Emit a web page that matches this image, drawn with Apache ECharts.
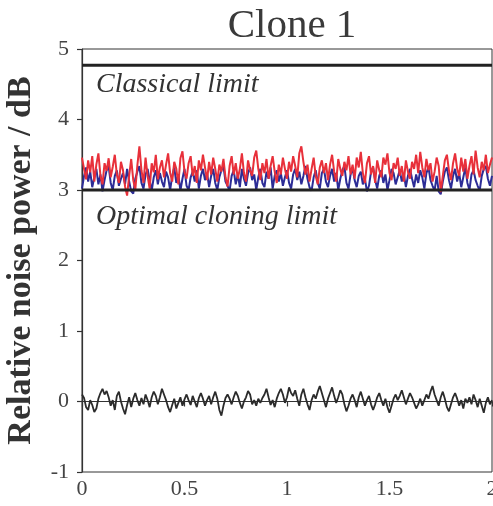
<!DOCTYPE html>
<html>
<head>
<meta charset="utf-8">
<script src="https://cdn.jsdelivr.net/npm/echarts@6/dist/echarts.min.js"></script>
<style>
  html, body { margin: 0; padding: 0; background: #fff; }
  #main { width: 493px; height: 506px; }
</style>
</head>
<body>
<div id="main"></div>
<script>
// time step of the traces (x axis 0..2)
const step = 0.01;
const classicalLimit = 4.77;
const cloningLimit = 3.0;

const redTrace = [
  3.46,3.30,3.15,3.42,3.25,3.48,3.12,3.36,3.52,3.20,3.08,3.38,3.27,3.45,3.18,3.33,3.50,3.22,3.10,3.40,
  3.28,3.05,2.92,3.20,3.44,3.14,3.00,3.35,3.62,3.28,3.10,3.46,3.20,3.02,3.38,3.25,3.50,3.15,3.32,3.42,
  3.18,3.36,3.52,3.24,3.12,3.40,3.30,3.08,3.45,3.55,3.26,3.16,3.38,3.48,3.20,3.34,3.10,3.42,3.28,3.50,
  3.32,3.14,3.40,3.22,3.46,3.30,3.12,3.36,3.26,3.44,3.18,3.05,3.34,3.48,3.22,3.38,3.16,3.30,3.52,3.24,
  3.12,3.42,3.28,3.20,3.46,3.56,3.30,3.14,3.38,3.24,3.44,3.16,3.34,3.48,3.26,3.10,3.36,3.22,3.46,3.30,
  3.16,3.40,3.26,3.48,3.34,3.18,3.52,3.62,3.40,3.22,3.36,3.12,3.30,3.46,3.20,3.08,3.32,3.42,3.24,3.38,
  3.14,3.36,3.50,3.26,3.12,3.44,3.30,3.20,3.40,3.28,3.48,3.22,3.36,3.16,3.46,3.32,3.54,3.24,3.10,3.38,
  3.48,3.22,3.34,3.10,3.42,3.28,3.18,3.46,3.36,3.52,3.24,3.14,3.38,3.30,3.46,3.20,3.34,3.12,3.42,3.26,
  3.16,3.40,3.30,3.50,3.24,3.54,3.32,3.18,3.44,3.28,3.38,3.12,3.26,3.46,3.34,2.97,3.20,3.42,3.50,3.28,
  3.14,3.38,3.52,3.30,3.20,3.46,3.26,3.44,3.16,3.34,3.48,3.22,3.56,3.32,3.18,3.40,3.28,3.50,3.24,3.36,
  3.46
];

const blueTrace = [
  3.02,3.20,3.32,3.12,3.26,3.04,3.18,3.30,3.08,3.22,2.98,3.14,3.28,3.34,3.10,3.00,3.20,3.28,3.06,3.16,
  3.24,3.08,3.30,3.12,2.98,2.95,3.16,3.26,3.34,3.10,3.02,3.22,3.30,3.14,2.99,3.18,3.28,3.08,3.24,3.12,
  3.04,3.26,3.18,3.00,3.20,3.32,3.10,3.22,2.99,3.16,3.30,3.06,3.00,3.18,3.26,3.12,3.28,3.02,3.20,3.30,
  3.14,3.24,3.04,3.20,3.30,3.10,3.00,3.18,3.28,3.34,3.12,3.06,2.99,3.20,3.28,3.08,3.22,3.04,3.30,3.16,
  3.06,3.24,3.32,3.14,3.22,3.00,3.18,3.30,3.10,3.04,3.26,3.16,3.32,3.02,3.20,3.28,3.12,3.24,3.06,3.18,
  3.28,3.10,3.02,3.22,3.30,3.14,3.26,3.08,3.20,3.34,3.16,3.04,2.99,3.18,3.28,3.10,3.02,3.24,3.30,3.12,
  3.04,3.20,3.30,3.12,3.24,3.00,3.16,3.28,3.34,3.10,3.02,3.22,3.30,3.14,3.04,3.20,3.26,3.08,3.16,2.98,
  3.06,3.26,3.32,3.14,3.02,3.20,3.28,3.10,3.22,3.00,3.14,3.30,3.24,3.08,3.18,3.28,3.12,3.22,3.04,3.20,
  3.30,3.16,3.04,3.22,3.10,3.28,3.18,3.02,3.24,3.32,3.14,3.06,2.99,3.20,2.98,2.94,3.12,3.26,3.32,3.14,
  3.02,3.20,3.30,3.12,3.24,3.04,3.18,3.32,3.10,3.00,3.22,3.28,3.14,3.06,2.99,3.20,3.30,3.34,3.16,3.06,
  3.20
];

const blackTrace = [
  0.10,0.05,-0.08,-0.12,0.02,-0.05,-0.15,-0.10,0.04,0.12,0.18,0.10,0.15,0.06,-0.06,0.02,-0.12,0.08,0.14,0.00,
  -0.10,-0.18,-0.05,0.06,-0.08,0.04,0.12,0.02,-0.06,0.05,-0.04,0.10,0.02,-0.08,0.06,0.14,0.08,-0.04,0.06,0.18,
  0.10,0.02,-0.08,-0.15,-0.05,0.04,-0.10,-0.02,0.06,-0.06,0.03,0.10,0.02,-0.05,0.08,0.00,-0.08,0.05,0.12,0.04,
  -0.06,0.02,0.08,-0.04,0.06,0.14,0.04,-0.12,-0.20,-0.06,0.05,0.10,0.04,-0.04,0.06,0.14,0.08,-0.02,-0.10,0.00,
  0.06,0.15,0.10,-0.04,0.02,-0.06,0.04,-0.02,0.05,0.10,0.18,0.06,-0.05,0.02,-0.08,0.04,0.12,0.18,0.10,-0.02,
  0.06,0.20,0.12,0.08,0.16,0.04,-0.06,0.10,0.18,0.06,-0.04,-0.12,0.02,0.10,0.04,0.14,0.22,0.12,0.02,-0.08,
  0.04,0.12,0.20,0.08,-0.02,0.06,0.16,0.10,-0.04,-0.14,-0.06,0.04,0.10,0.02,-0.08,0.06,0.14,0.04,-0.06,0.02,
  0.08,-0.04,-0.12,-0.04,0.06,0.12,0.02,-0.06,0.04,-0.08,-0.16,-0.06,0.04,0.10,0.02,0.08,0.16,0.06,-0.04,0.04,
  0.12,0.06,-0.02,-0.10,-0.04,0.04,-0.06,0.02,0.10,0.04,0.14,0.22,0.10,0.02,-0.06,0.06,0.14,0.04,-0.08,-0.14,
  -0.04,0.06,0.12,0.04,-0.06,0.02,-0.10,0.04,-0.02,0.06,-0.04,0.10,0.02,-0.08,0.04,-0.06,-0.16,-0.02,0.06,-0.04,
  0.02
];

function pairs(arr) {
  return arr.map((v, i) => [+(i * step).toFixed(2), v]);
}
function hline(v) {
  return [[0, v], [2, v]];
}

const serif = '"Liberation Serif", "DejaVu Serif", serif';
const myChart = echarts.init(document.getElementById('main'));

const option = {
  animation: false,
  title: {
    text: 'Clone 1',
    left: 287,
    textAlign: 'center',
    top: 1,
    textStyle: { fontFamily: serif, fontSize: 41, fontWeight: 'normal', color: '#3a3a3a' }
  },
  grid: {
    left: 82, right: 1, top: 49, bottom: 34,
    outerBoundsMode: 'none',
    containLabel: false,
    show: true, borderColor: '#333', borderWidth: 1
  },
  xAxis: {
    type: 'value',
    min: 0, max: 2, interval: 0.5,
    splitLine: { show: false },
    axisLine: { lineStyle: { color: '#333', width: 1.2 } },
    axisTick: { show: true, length: 5, lineStyle: { color: '#333', width: 1.2 } },
    axisLabel: { fontFamily: serif, fontSize: 22, color: '#444', margin: 6 }
  },
  yAxis: {
    type: 'value',
    min: -1, max: 5, interval: 1,
    name: 'Relative noise power / dB',
    nameLocation: 'middle',
    nameGap: 44,
    nameMoveOverlap: false,
    nameTextStyle: { fontFamily: serif, fontSize: 34, fontWeight: 'bold', color: '#333' },
    splitLine: { show: false },
    axisLine: { show: true, lineStyle: { color: '#333', width: 1.2 } },
    axisTick: { show: true, length: 5, lineStyle: { color: '#333', width: 1.2 } },
    axisLabel: { fontFamily: serif, fontSize: 22, color: '#444', margin: 13 }
  },
  graphic: [
    {
      type: 'text', left: 96, top: 71,
      style: { text: 'Classical limit', font: 'italic 28px ' + serif, fill: '#333' }
    },
    {
      type: 'text', left: 96, top: 203,
      style: { text: 'Optimal cloning limit', font: 'italic 28px ' + serif, fill: '#333' }
    }
  ],
  series: [
    {
      type: 'line', data: hline(0), symbol: 'none', silent: true,
      lineStyle: { color: '#333', width: 1.2 }
    },
    {
      type: 'line', data: pairs(blackTrace), symbol: 'none',
      lineStyle: { color: '#2b2b2b', width: 1.8 }
    },
    {
      type: 'line', data: pairs(blueTrace), symbol: 'none',
      lineStyle: { color: '#2c2c96', width: 2 }
    },
    {
      type: 'line', data: pairs(redTrace), symbol: 'none',
      lineStyle: { color: '#e8303a', width: 2 }
    },
    {
      type: 'line', data: hline(cloningLimit), symbol: 'none', silent: true,
      lineStyle: { color: '#222', width: 3 }
    },
    {
      type: 'line', data: hline(classicalLimit), symbol: 'none', silent: true,
      lineStyle: { color: '#222', width: 3 }
    }
  ]
};
myChart.setOption(option);
</script>
</body>
</html>
